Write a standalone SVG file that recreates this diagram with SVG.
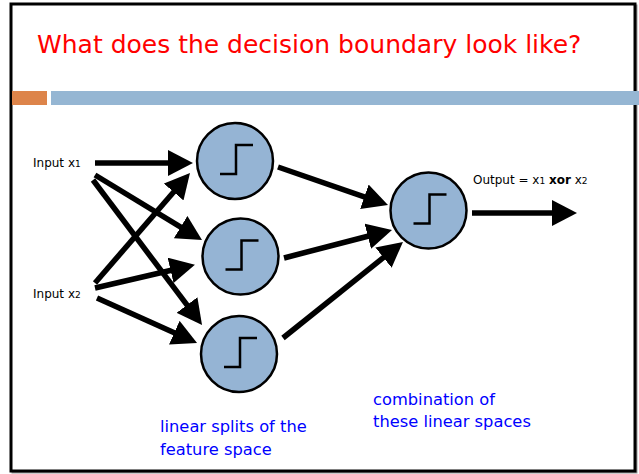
<svg xmlns="http://www.w3.org/2000/svg" width="639" height="474" viewBox="0 0 639 474">
  <style>
    .node { fill: #95b4d4; stroke: #000; stroke-width: 2.5; }
    .step { fill: none; stroke: #000; stroke-width: 2.5; }
    .edge { stroke: #000; stroke-width: 5.5; fill: none; marker-end: url(#head); }
    .lbl { font-family: "DejaVu Sans", sans-serif; font-size: 12px; fill: #000; }
    .note { font-family: "DejaVu Sans", sans-serif; font-size: 16.3px; fill: #0000ff; }
    .title { font-family: "DejaVu Sans", sans-serif; font-size: 25px; fill: #ff0000; }
  </style>
  <defs>
    <marker id="head" viewBox="0 0 25 26" markerWidth="25" markerHeight="26" refX="3" refY="13" markerUnits="userSpaceOnUse" orient="auto">
      <path d="M0,0 L25,13 L0,26 Z" fill="#000"/>
    </marker>
    <g id="stepfn">
      <path class="step" d="M-15,13 H1 V-16 H18"/>
    </g>
  </defs>

  <rect x="0" y="0" width="639" height="474" fill="#fff"/>
  <!-- slide frame -->
  <rect x="12.5" y="5.5" width="624" height="467" fill="none" stroke="#999" stroke-width="2"/>
  <rect x="11" y="4" width="624" height="467" fill="#fff" stroke="#000" stroke-width="3"/>

  <!-- header -->
  <text class="title" x="37" y="53">What does the decision boundary look like?</text>
  <rect x="12" y="91" width="35" height="14" fill="#dd844a"/>
  <rect x="51" y="91" width="588" height="14" fill="#95b6d3"/>

  <!-- connectors -->
  <g id="connectors">
    <line class="edge" x1="95" y1="163" x2="171" y2="163"/>
    <line class="edge" x1="95" y1="175" x2="183.2" y2="228.6"/>
    <line class="edge" x1="93" y1="180" x2="188.8" y2="307.4"/>
    <line class="edge" x1="95" y1="283" x2="175.6" y2="189.7"/>
    <line class="edge" x1="95" y1="288" x2="173.5" y2="269.7"/>
    <line class="edge" x1="97" y1="298" x2="177" y2="333.9"/>
    <line class="edge" x1="278" y1="167" x2="367.2" y2="197.8"/>
    <line class="edge" x1="284" y1="258" x2="370.7" y2="235.5"/>
    <line class="edge" x1="283" y1="338" x2="385.8" y2="255.7"/>
    <line class="edge" x1="472" y1="213" x2="555" y2="213"/>
  </g>

  <!-- hidden units -->
  <g id="h1">
    <circle class="node" cx="235" cy="161" r="38"/>
    <use href="#stepfn" x="235" y="161"/>
  </g>
  <g id="h2">
    <circle class="node" cx="240.5" cy="256.5" r="38"/>
    <use href="#stepfn" x="240.5" y="256.5"/>
  </g>
  <g id="h3">
    <circle class="node" cx="239" cy="354" r="38"/>
    <use href="#stepfn" x="239" y="354"/>
  </g>
  <!-- output unit -->
  <g id="out">
    <circle class="node" cx="428.5" cy="210.5" r="38"/>
    <use href="#stepfn" x="428.5" y="210.5"/>
  </g>

  <!-- labels -->
  <g id="in1"><text class="lbl" x="33" y="167">Input x<tspan font-size="9">1</tspan></text></g>
  <g id="in2"><text class="lbl" x="33" y="298">Input x<tspan font-size="9">2</tspan></text></g>
  <g id="outlbl"><text class="lbl" x="473" y="184">Output = x<tspan font-size="9">1</tspan> <tspan font-weight="bold">xor</tspan> x<tspan font-size="9">2</tspan></text></g>

  <g id="note1">
    <text class="note" x="160" y="432">linear splits of the</text>
    <text class="note" x="160" y="455">feature space</text>
  </g>
  <g id="note2">
    <text class="note" x="373" y="405">combination of</text>
    <text class="note" x="373" y="427">these linear spaces</text>
  </g>
</svg>
